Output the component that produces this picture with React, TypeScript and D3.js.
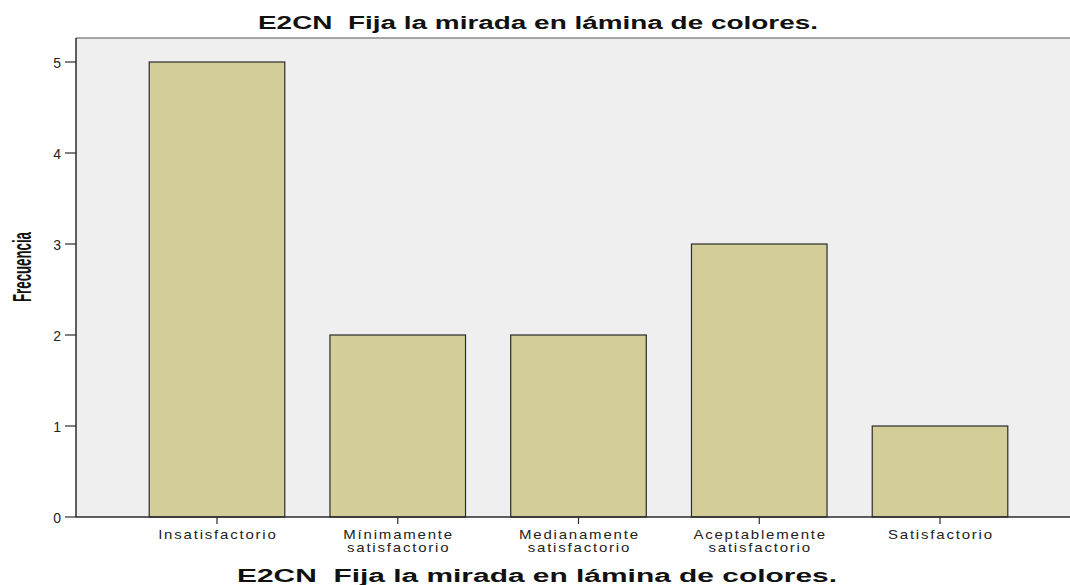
import React from "react";
import * as d3 from "d3";

const categories: string[][] = [
  ["Insatisfactorio"],
  ["Mínimamente", "satisfactorio"],
  ["Medianamente", "satisfactorio"],
  ["Aceptablemente", "satisfactorio"],
  ["Satisfactorio"],
];
const categoryKeys = ["Insatisfactorio", "Mínimamente satisfactorio", "Medianamente satisfactorio", "Aceptablemente satisfactorio", "Satisfactorio"];
const frequencies = [5, 2, 2, 3, 1];
const yTicks = [0, 1, 2, 3, 4, 5];
const title = "E2CN  Fija la mirada en lámina de colores.";
const yLabel = "Frecuencia";

const W = 1070;
const H = 585;
const left = 76;
const top = 38;
const bottom = 517;

export default function App() {
  const x = d3
    .scaleBand<string>()
    .domain(categoryKeys)
    .range([left, 1081])
    .paddingInner(0.25)
    .paddingOuter(0.405);
  const y = d3.scaleLinear().domain([0, 5]).range([bottom, 62]);
  const font = "'Liberation Sans', Arial, sans-serif";
  const sx = 1.2;
  const ls = 1.5;
  return (
    <svg width={W} height={H} style={{ position: "absolute", left: 0, top: 0, background: "#fff" }}>
      <rect x={left} y={top} width={W - left} height={bottom - top} fill="#EFEFEF" />
      <line x1={left} x2={W} y1={top} y2={top} stroke="#8a8a8a" strokeWidth={1.5} />
      {categoryKeys.map((k, i) => (
        <rect
          key={k}
          x={x(k)!}
          y={y(frequencies[i])}
          width={x.bandwidth()}
          height={bottom - y(frequencies[i])}
          fill="#D3CE97"
          stroke="#2b2b2b"
          strokeWidth={1.2}
        />
      ))}
      <line x1={left} x2={left} y1={top} y2={bottom} stroke="#2b2b2b" strokeWidth={1.5} />
      <line x1={left} x2={W} y1={bottom} y2={bottom} stroke="#2b2b2b" strokeWidth={1.5} />
      {yTicks.map((t) => (
        <g key={t}>
          <line x1={65} x2={left} y1={y(t)} y2={y(t)} stroke="#2b2b2b" strokeWidth={1.2} />
          <text x={61} y={y(t) + 6} textAnchor="end" fontFamily={font} fontSize={14} fill="#222">
            {t}
          </text>
        </g>
      ))}
      {categoryKeys.map((k, i) => {
        const cx = x(k)! + x.bandwidth() / 2;
        return (
          <g key={k}>
            <line x1={cx} x2={cx} y1={bottom} y2={bottom + 7} stroke="#2b2b2b" strokeWidth={1.2} />
            {categories[i].map((line, j) => (
              <text
                key={j}
                transform={`translate(${cx + (ls * sx) / 2},${539 + j * 12.7}) scale(${sx},1)`}
                textAnchor="middle"
                fontFamily={font}
                fontSize={12.5}
                letterSpacing={ls}
                fill="#222"
              >
                {line}
              </text>
            ))}
          </g>
        );
      })}
      <text
        x={538}
        y={29}
        textAnchor="middle"
        fontFamily={font}
        fontSize={18}
        fontWeight="bold"
        fill="#111"
        textLength={560}
        lengthAdjust="spacingAndGlyphs"
        style={{ whiteSpace: "pre" }}
      >
        {title}
      </text>
      <text
        x={537}
        y={582}
        textAnchor="middle"
        fontFamily={font}
        fontSize={17.5}
        fontWeight="bold"
        fill="#111"
        textLength={600}
        lengthAdjust="spacingAndGlyphs"
        style={{ whiteSpace: "pre" }}
      >
        {title}
      </text>
      <text
        transform={`translate(31,${267}) rotate(-90)`}
        textAnchor="middle"
        fontFamily={font}
        fontSize={25}
        fontWeight="bold"
        fill="#111"
        textLength={70}
        lengthAdjust="spacingAndGlyphs"
      >
        {yLabel}
      </text>
    </svg>
  );
}
